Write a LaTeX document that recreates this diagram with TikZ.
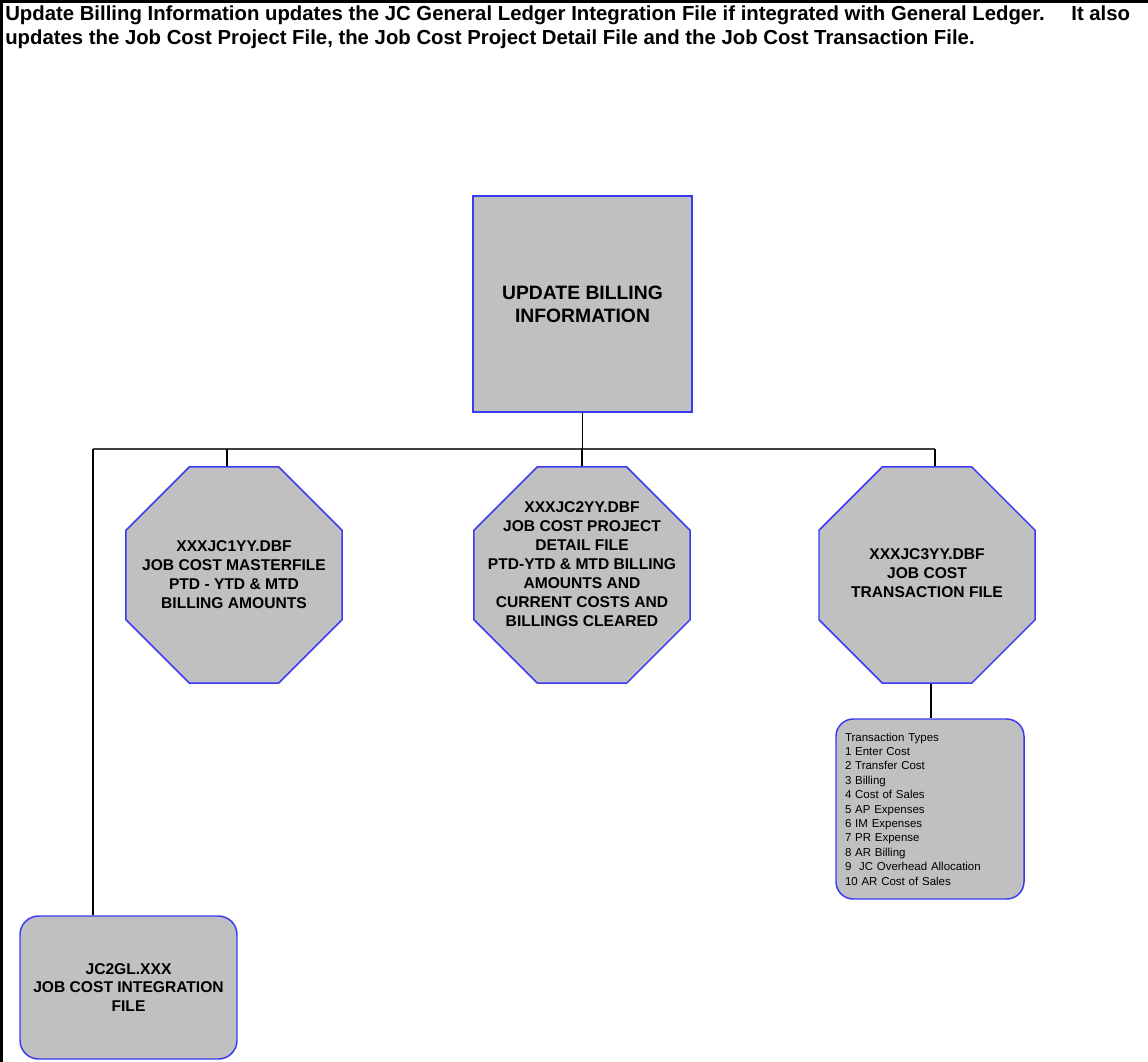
\documentclass[tikz,border=0pt]{standalone}
\usepackage{fontspec}
\setmainfont{Liberation Sans}
\usetikzlibrary{shapes.geometric,calc}
\definecolor{Silver}{HTML}{C0C0C0}
\definecolor{Edge}{HTML}{3A3AF5}
\definecolor{Wire}{HTML}{404040}
\tikzset{
 panel/.style={draw=Edge,fill=Silver,line width=1.1pt,rounded corners=14pt,align=center,inner sep=0pt,font=\bfseries\fontsize{11.7}{13.7}\selectfont},
 mainbox/.style={panel,rounded corners=0pt,minimum width=164pt,minimum height=162pt,font=\bfseries\fontsize{14.5}{17.25}\selectfont},
 filebox/.style={panel,minimum width=162.75pt,minimum height=107.25pt},
 listbox/.style={panel,rounded corners=13pt,align=left,text width=127.5pt,minimum width=141pt,minimum height=135pt,font=\fontsize{8.6}{10.8}\selectfont},
 octa/.style={regular polygon,regular polygon sides=8,draw=Edge,fill=Silver,line width=1.1pt,minimum size=175.4pt,inner sep=0pt},
 octtext/.style={align=center,inner sep=0pt,font=\bfseries\fontsize{11.7}{14.25}\selectfont},
 intro/.style={anchor=base west,inner sep=0pt,font=\bfseries\fontsize{15.25}{18}\selectfont},
 link/.style={draw=black,line width=1.4pt},
 bus/.style={draw=Wire,line width=1.4pt}
}
\begin{document}
\begin{tikzpicture}[x=.75pt,y=-.75pt]
\useasboundingbox (0,0) rectangle (1148,1062);
\draw[line width=2.2pt] (0,1.5)--(1148,1.5);
\draw[line width=2.2pt] (1.5,0)--(1.5,1062);
\node[intro] (introa) at (5,21) {Update Billing Information updates the JC General Ledger Integration File if integrated with General Ledger.\hspace{20pt}It also};
\node[intro] (introb) at (5,45) {updates the Job Cost Project File, the Job Cost Project Detail File and the Job Cost Transaction File.};
\node[mainbox] (upd) at (582.5,304) {UPDATE BILLING\\INFORMATION};
\coordinate (busL) at (93,449);
\coordinate (busR) at (935,449);
\draw[bus] (busL)--(busR);
\draw[link] (upd.south)--(upd.south |- busL);
\foreach \nm/\cx/\dx/\ty/\txt in {jcone/234/-7/0/{XXXJC1YY.DBF\\JOB COST MASTERFILE\\PTD - YTD \& MTD\\BILLING AMOUNTS},jctwo/582/0/-11/{XXXJC2YY.DBF\\JOB COST PROJECT\\DETAIL FILE\\PTD-YTD \& MTD BILLING\\AMOUNTS AND\\CURRENT COSTS AND\\BILLINGS CLEARED},jcthree/927/8/-2/{XXXJC3YY.DBF\\JOB COST\\TRANSACTION FILE}} {
 \node[octa] (\nm) at (\cx,575) {};
 \node[octtext] (\nm txt) at ($(\nm)+(0,\ty)$) {\txt};
 \path ($(\nm.north)+(\dx,0)$) coordinate (\nm top);
 \draw[link] (\nm top)--(\nm top |- busL);
}
\node[listbox] (types) at (930,809) {Transaction Types\\1 Enter Cost\\2 Transfer Cost\\3 Billing\\4 Cost of Sales\\5 AP Expenses\\6 IM Expenses\\7 PR Expense\\8 AR Billing\\9~~JC Overhead Allocation\\10 AR Cost of Sales};
\path ($(jcthree.south)+(4,0)$) coordinate (jcfoot);
\draw[link] (jcfoot)--(jcfoot |- types.north);
\node[filebox] (gl) at (128.5,987.5) {JC2GL.XXX\\JOB COST INTEGRATION\\FILE};
\draw[link] (busL)--(busL |- gl.north);
\end{tikzpicture}
\end{document}
